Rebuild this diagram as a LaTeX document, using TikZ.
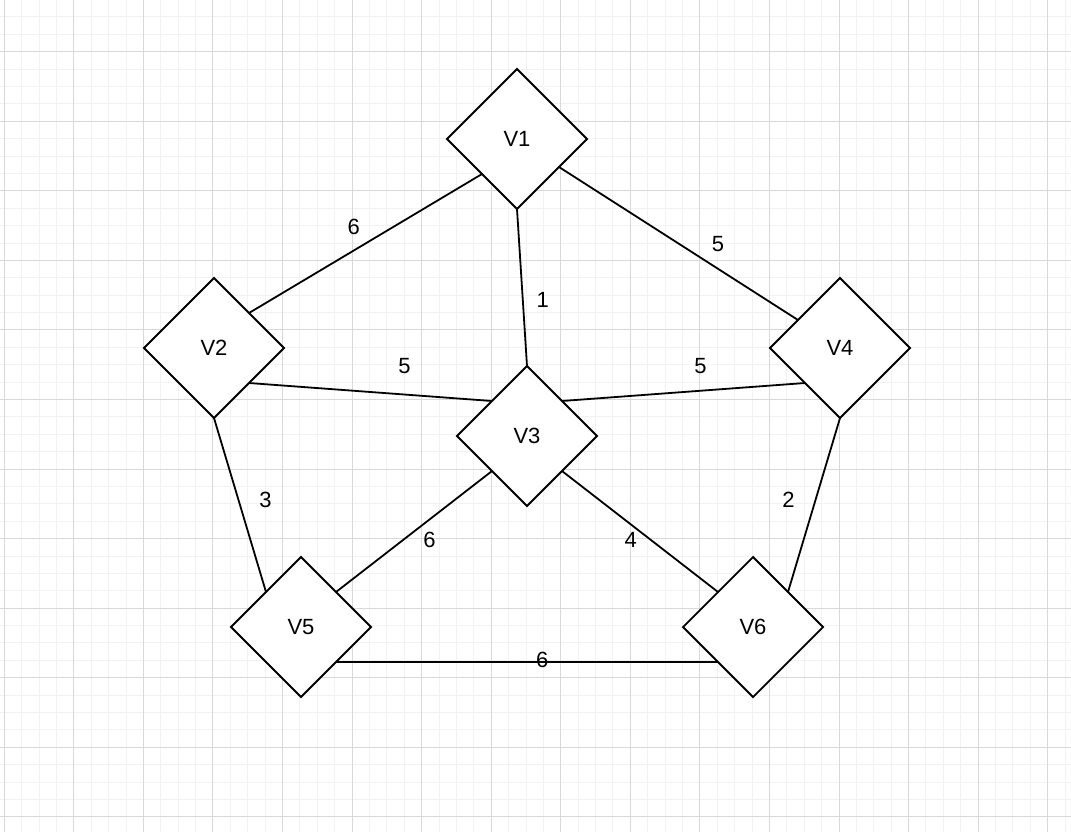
\documentclass[tikz,border=0pt]{standalone}
\usepackage{fontspec}
\setmainfont{Liberation Sans}
\usetikzlibrary{shapes.geometric,calc}

\tikzset{
  vertex/.style={draw, diamond, fill=white, line width=0.9pt, minimum size=70pt,
    inner sep=0pt, outer sep=0pt, font=\fontsize{11}{13}\selectfont},
  wlabel/.style={font=\fontsize{11}{13}\selectfont, inner sep=0pt},
  minorgrid/.style={line width=0.5pt, black!5},
  majorgrid/.style={line width=0.5pt, black!15}
}

\begin{document}
\begin{tikzpicture}[x=0.5pt,y=-0.5pt]
\useasboundingbox (0,0) rectangle (1071,832);
\fill[white] (0,0) rectangle (1071,832);
\begin{scope}
\clip (0,0) rectangle (1071,832);
\foreach \i in {0,...,61} \draw[minorgrid] ({4.3+17.39*\i},0) -- ({4.3+17.39*\i},832);
\foreach \j in {0,...,48} \draw[minorgrid] (0,{-0.47+17.39*\j}) -- (1071,{-0.47+17.39*\j});
\foreach \i in {0,...,15} \draw[majorgrid] ({4.3+69.56*\i},0) -- ({4.3+69.56*\i},832);
\foreach \j in {0,...,11} \draw[majorgrid] (0,{51.7+69.56*\j}) -- (1071,{51.7+69.56*\j});
\end{scope}

\node[vertex] (V1) at (517,139) {V1};
\node[vertex] (V2) at (214,348) {V2};
\node[vertex] (V3) at (527,436) {V3};
\node[vertex] (V4) at (840,348) {V4};
\node[vertex] (V5) at (301,627) {V5};
\node[vertex] (V6) at (753,627) {V6};

\begin{scope}[line width=0.9pt]
\draw (V1.south west) -- (V2.north east) node[wlabel,pos=.55,yshift=12pt] {6};
\draw (V1.south) -- (V3.north) node[wlabel,pos=.58,xshift=10pt] {1};
\draw ($(V1.east)!0.4!(V1.south)$) -- ($(V4.west)!0.4!(V4.north)$) node[wlabel,pos=.665,yshift=12.5pt] {5};
\draw (V2.south east) -- (V3.north west) node[wlabel,pos=.64,yshift=14pt] {5};
\draw (V3.north east) -- (V4.south west) node[wlabel,pos=.57,yshift=12.4pt] {5};
\draw (V2.south) -- (V5.north west) node[wlabel,pos=.47,xshift=13.5pt] {3};
\draw (V3.south west) -- (V5.north east) node[wlabel,pos=.4,yshift=-10.5pt] {6};
\draw (V3.south east) -- (V6.north west) node[wlabel,pos=.44,yshift=-8pt] {4};
\draw (V4.south) -- (V6.north east) node[wlabel,pos=.47,xshift=-13.5pt] {2};
\draw (V5.south east) -- (V6.south west) node[wlabel,pos=.54,yshift=1pt] {6};
\end{scope}

\end{tikzpicture}
\end{document}
